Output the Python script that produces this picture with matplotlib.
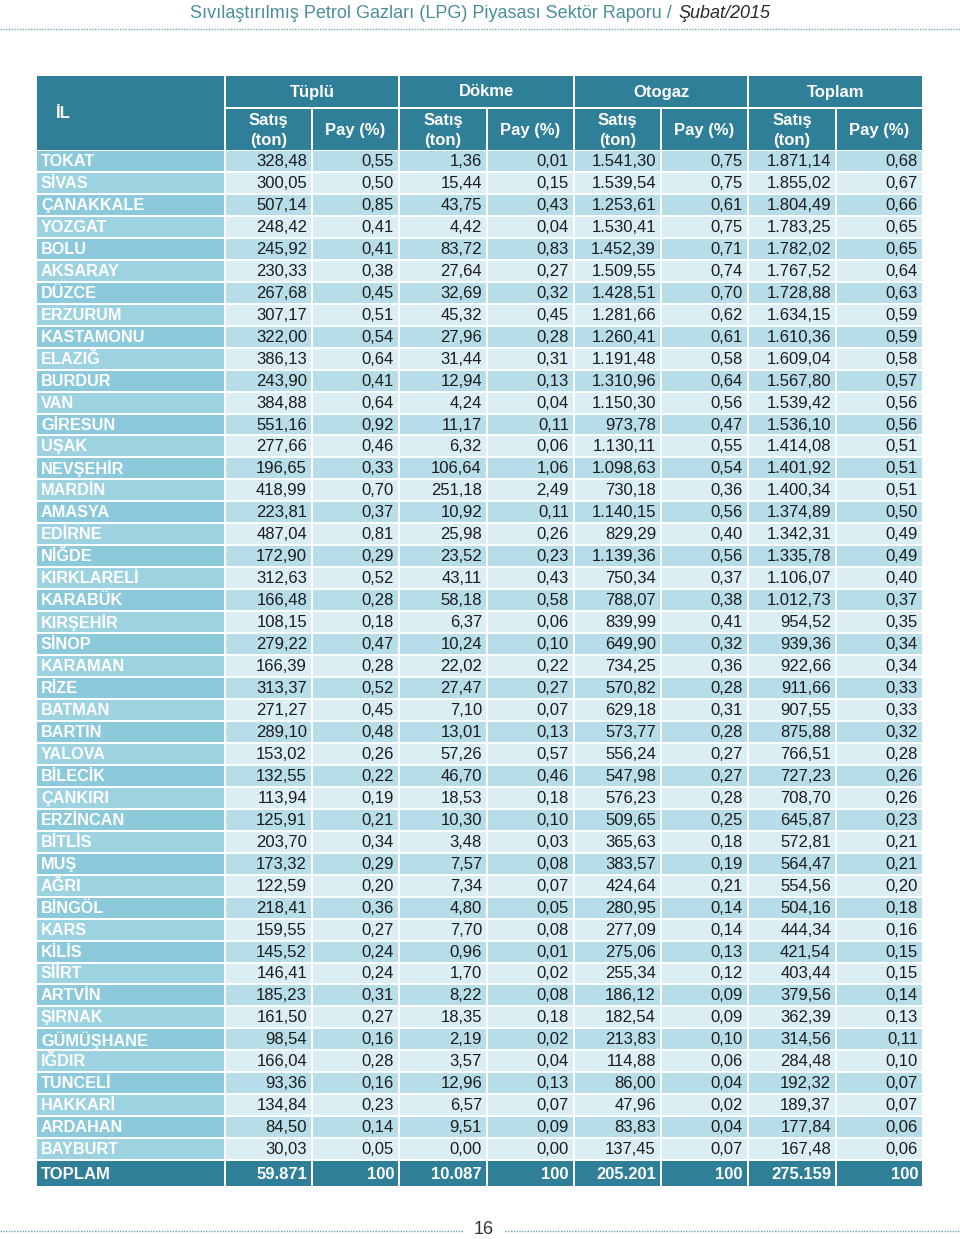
import matplotlib
matplotlib.use("Agg")
import matplotlib.pyplot as plt
from matplotlib.patches import Rectangle

# il bazinda LPG satislari, Subat 2015
iller = ["TOKAT", "SİVAS", "ÇANAKKALE", "YOZGAT", "BOLU", "AKSARAY", "DÜZCE", "ERZURUM",
         "KASTAMONU", "ELAZIĞ", "BURDUR", "VAN", "GİRESUN", "UŞAK", "NEVŞEHİR", "MARDİN",
         "AMASYA", "EDİRNE", "NİĞDE", "KIRKLARELİ", "KARABÜK", "KIRŞEHİR", "SİNOP", "KARAMAN",
         "RİZE", "BATMAN", "BARTIN", "YALOVA", "BİLECİK", "ÇANKIRI", "ERZİNCAN", "BİTLİS",
         "MUŞ", "AĞRI", "BİNGÖL", "KARS", "KİLİS", "SİİRT", "ARTVİN", "ŞIRNAK", "GÜMÜŞHANE",
         "IĞDIR", "TUNCELİ", "HAKKARİ", "ARDAHAN", "BAYBURT"]

tuplu_satis = [328.48, 300.05, 507.14, 248.42, 245.92, 230.33, 267.68, 307.17, 322.00, 386.13,
               243.90, 384.88, 551.16, 277.66, 196.65, 418.99, 223.81, 487.04, 172.90, 312.63,
               166.48, 108.15, 279.22, 166.39, 313.37, 271.27, 289.10, 153.02, 132.55, 113.94,
               125.91, 203.70, 173.32, 122.59, 218.41, 159.55, 145.52, 146.41, 185.23, 161.50,
               98.54, 166.04, 93.36, 134.84, 84.50, 30.03]
tuplu_pay = [0.55, 0.50, 0.85, 0.41, 0.41, 0.38, 0.45, 0.51, 0.54, 0.64, 0.41, 0.64, 0.92, 0.46,
             0.33, 0.70, 0.37, 0.81, 0.29, 0.52, 0.28, 0.18, 0.47, 0.28, 0.52, 0.45, 0.48, 0.26,
             0.22, 0.19, 0.21, 0.34, 0.29, 0.20, 0.36, 0.27, 0.24, 0.24, 0.31, 0.27, 0.16, 0.28,
             0.16, 0.23, 0.14, 0.05]
dokme_satis = [1.36, 15.44, 43.75, 4.42, 83.72, 27.64, 32.69, 45.32, 27.96, 31.44, 12.94, 4.24,
               11.17, 6.32, 106.64, 251.18, 10.92, 25.98, 23.52, 43.11, 58.18, 6.37, 10.24, 22.02,
               27.47, 7.10, 13.01, 57.26, 46.70, 18.53, 10.30, 3.48, 7.57, 7.34, 4.80, 7.70, 0.96,
               1.70, 8.22, 18.35, 2.19, 3.57, 12.96, 6.57, 9.51, 0.00]
dokme_pay = [0.01, 0.15, 0.43, 0.04, 0.83, 0.27, 0.32, 0.45, 0.28, 0.31, 0.13, 0.04, 0.11, 0.06,
             1.06, 2.49, 0.11, 0.26, 0.23, 0.43, 0.58, 0.06, 0.10, 0.22, 0.27, 0.07, 0.13, 0.57,
             0.46, 0.18, 0.10, 0.03, 0.08, 0.07, 0.05, 0.08, 0.01, 0.02, 0.08, 0.18, 0.02, 0.04,
             0.13, 0.07, 0.09, 0.00]
otogaz_satis = [1541.30, 1539.54, 1253.61, 1530.41, 1452.39, 1509.55, 1428.51, 1281.66, 1260.41,
                1191.48, 1310.96, 1150.30, 973.78, 1130.11, 1098.63, 730.18, 1140.15, 829.29,
                1139.36, 750.34, 788.07, 839.99, 649.90, 734.25, 570.82, 629.18, 573.77, 556.24,
                547.98, 576.23, 509.65, 365.63, 383.57, 424.64, 280.95, 277.09, 275.06, 255.34,
                186.12, 182.54, 213.83, 114.88, 86.00, 47.96, 83.83, 137.45]
otogaz_pay = [0.75, 0.75, 0.61, 0.75, 0.71, 0.74, 0.70, 0.62, 0.61, 0.58, 0.64, 0.56, 0.47, 0.55,
              0.54, 0.36, 0.56, 0.40, 0.56, 0.37, 0.38, 0.41, 0.32, 0.36, 0.28, 0.31, 0.28, 0.27,
              0.27, 0.28, 0.25, 0.18, 0.19, 0.21, 0.14, 0.14, 0.13, 0.12, 0.09, 0.09, 0.10, 0.06,
              0.04, 0.02, 0.04, 0.07]
toplam_satis = [1871.14, 1855.02, 1804.49, 1783.25, 1782.02, 1767.52, 1728.88, 1634.15, 1610.36,
                1609.04, 1567.80, 1539.42, 1536.10, 1414.08, 1401.92, 1400.34, 1374.89, 1342.31,
                1335.78, 1106.07, 1012.73, 954.52, 939.36, 922.66, 911.66, 907.55, 875.88, 766.51,
                727.23, 708.70, 645.87, 572.81, 564.47, 554.56, 504.16, 444.34, 421.54, 403.44,
                379.56, 362.39, 314.56, 284.48, 192.32, 189.37, 177.84, 167.48]
toplam_pay = [0.68, 0.67, 0.66, 0.65, 0.65, 0.64, 0.63, 0.59, 0.59, 0.58, 0.57, 0.56, 0.56, 0.51,
              0.51, 0.51, 0.50, 0.49, 0.49, 0.40, 0.37, 0.35, 0.34, 0.34, 0.33, 0.33, 0.32, 0.28,
              0.26, 0.26, 0.23, 0.21, 0.21, 0.20, 0.18, 0.16, 0.15, 0.15, 0.14, 0.13, 0.11, 0.10,
              0.07, 0.07, 0.06, 0.06]

genel_toplam = [59871, 100, 10087, 100, 205201, 100, 275159, 100]
gruplar = ["Tüplü", "Dökme", "Otogaz", "Toplam"]
baslik = "Sıvılaştırılmış Petrol Gazları (LPG) Piyasası Sektör Raporu / "
baslik_tarih = "Şubat/2015"
sayfa_no = "16"

HEAD = "#2f7f98"
NAME_A, NAME_B = "#8ccadb", "#9dd3e1"
CELL_A, CELL_B = "#b6dde8", "#dbeef4"
FONT = ["Liberation Sans", "DejaVu Sans"]


def tr(v, dec=2):
    s = f"{v:,.{dec}f}"
    return s.replace(",", "#").replace(".", ",").replace("#", ".")


fig = plt.figure(figsize=(9.6, 12.39), dpi=100)
ax = fig.add_axes([0, 0, 1, 1])
ax.set_xlim(0, 960)
ax.set_ylim(1239, 0)
ax.axis("off")

# kolon sinirlari
col_l = [37, 226, 313, 400, 488, 575, 662, 749, 837]
col_r = [224, 311, 398, 486, 573, 660, 747, 835, 922]

# baslik
ax.text(677, 13, baslik, ha="right", va="center", fontsize=13, color="#4a8e99",
        family=FONT)
ax.text(678, 13, baslik_tarih, ha="left", va="center", fontsize=13, color="#2a2a2a",
        style="italic", family=FONT)
ax.plot([0, 960], [29, 29], ls=(0, (1, 1)), lw=1, color="#6aa9b6")

# tablo basligi
ax.add_patch(Rectangle((col_l[0], 76), col_r[0] - col_l[0], 150 - 76, color=HEAD, lw=0))
ax.text(56, 113, "İL", ha="left", va="center", fontsize=12, color="white",
        weight="bold", family=FONT)
for g, name in enumerate(gruplar):
    x0, x1 = col_l[1 + 2 * g], col_r[2 + 2 * g]
    ax.add_patch(Rectangle((x0, 76), x1 - x0, 107 - 76, color=HEAD, lw=0))
    ax.text((x0 + x1) / 2, 92, name, ha="center", va="center", fontsize=12,
            color="white", weight="bold", family=FONT)
    for k in range(2):
        c = 1 + 2 * g + k
        xm = (col_l[c] + col_r[c]) / 2
        ax.add_patch(Rectangle((col_l[c], 109), col_r[c] - col_l[c], 150 - 109,
                               color=HEAD, lw=0))
        if k == 0:
            ax.text(xm, 120, "Satış", ha="center", va="center", fontsize=12,
                    color="white", weight="bold", family=FONT)
            ax.text(xm, 140, "(ton)", ha="center", va="center", fontsize=12,
                    color="white", weight="bold", family=FONT)
        else:
            ax.text(xm, 130, "Pay (%)", ha="center", va="center", fontsize=12,
                    color="white", weight="bold", family=FONT)

# veri satirlari
cols = [tuplu_satis, tuplu_pay, dokme_satis, dokme_pay,
        otogaz_satis, otogaz_pay, toplam_satis, toplam_pay]
row_h = 21.96
for i, il in enumerate(iller):
    top = 151 + i * row_h
    h = row_h - 2
    yc = top + h / 2 + 0.5
    ax.add_patch(Rectangle((col_l[0], top), col_r[0] - col_l[0], h,
                           color=NAME_A if i % 2 == 0 else NAME_B, lw=0))
    ax.text(41, yc, il, ha="left", va="center", fontsize=11.7, color="white",
            weight="bold", family=FONT)
    for c, vals in enumerate(cols, start=1):
        ax.add_patch(Rectangle((col_l[c], top), col_r[c] - col_l[c], h,
                               color=CELL_A if i % 2 == 0 else CELL_B, lw=0))
        ax.text(col_r[c] - 4, yc, tr(vals[i]), ha="right", va="center",
                fontsize=12, color="#1c1c1c", family=FONT)

# toplam satiri
top = 151 + len(iller) * row_h
h = 1186 - top
yc = top + h / 2 + 0.5
ax.add_patch(Rectangle((col_l[0], top), col_r[0] - col_l[0], h, color=HEAD, lw=0))
ax.text(41, yc, "TOPLAM", ha="left", va="center", fontsize=12, color="white",
        weight="bold", family=FONT)
for c, v in enumerate(genel_toplam, start=1):
    ax.add_patch(Rectangle((col_l[c], top), col_r[c] - col_l[c], h, color=HEAD, lw=0))
    ax.text(col_r[c] - 4, yc, tr(v, 0), ha="right", va="center", fontsize=12,
            color="white", weight="bold", family=FONT)

# sayfa altligi
ax.plot([0, 463], [1231, 1231], ls=(0, (1, 1)), lw=1, color="#6aa9b6")
ax.plot([505, 960], [1231, 1231], ls=(0, (1, 1)), lw=1, color="#6aa9b6")
ax.text(484, 1229, sayfa_no, ha="center", va="center", fontsize=13, color="#333333",
        family=FONT)

fig.savefig("out.png", dpi=100)
